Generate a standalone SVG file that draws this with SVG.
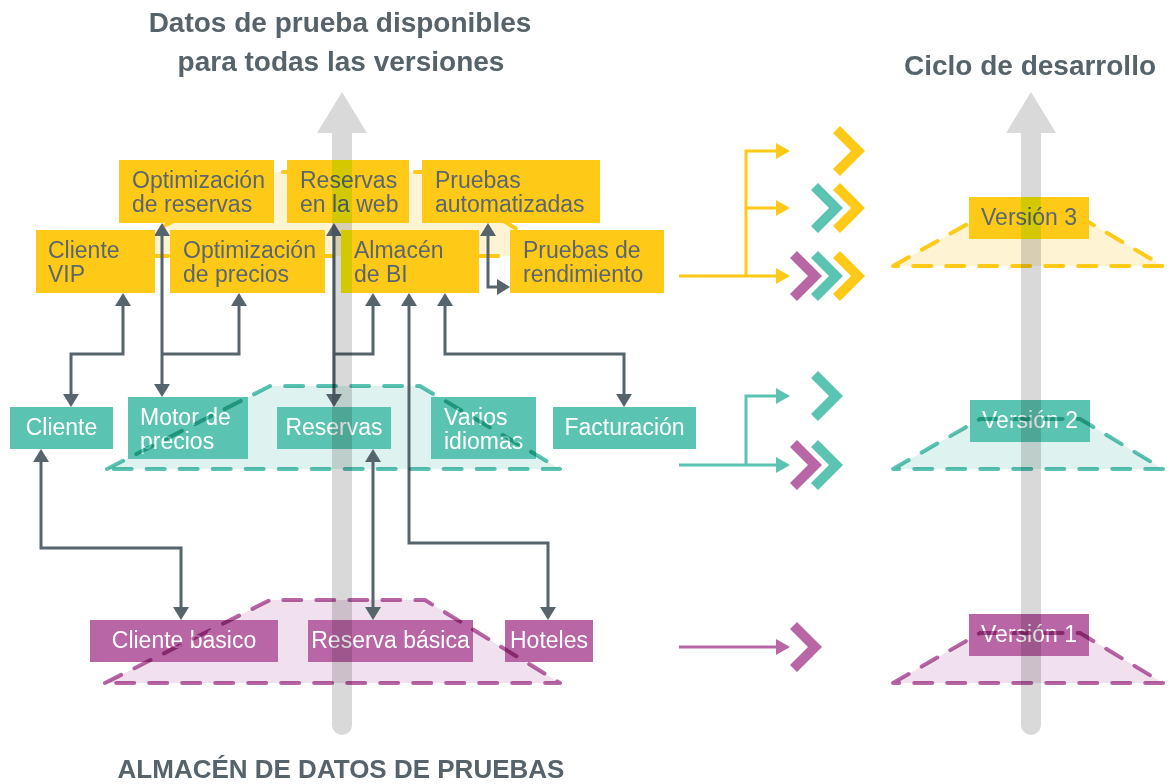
<svg xmlns="http://www.w3.org/2000/svg" width="1172" height="784" viewBox="0 0 1172 784">
<defs>
<style>
.title{font-family:"Liberation Sans",Arial,sans-serif;font-weight:bold;fill:#56636b}
.lbl{font-family:"Liberation Sans",Arial,sans-serif;font-size:23px}
.dk{fill:#5b6770}
.wt{fill:#ffffff}
.by{fill:#FFC917}
.bt{fill:#5BC3B2}
.bm{fill:#B966A6}
.strip{fill:#F9EB00}
.conn{fill:none;stroke:#56646c;stroke-width:3}
.both{marker-start:url(#ah);marker-end:url(#ah)}
.end{marker-end:url(#ah)}
.fy{fill:#FEF3D2}
.ft{fill:#DEF2EF}
.fm{fill:#F1E1EE}
.dash{fill:none;stroke-width:4;stroke-dasharray:18 15;stroke-linecap:round;stroke-linejoin:round}
.sy{stroke:#FFC917}
.st{stroke:#5BC3B2;mix-blend-mode:multiply}
.sm{stroke:#B966A6;mix-blend-mode:multiply}
.bar{fill:#d9d9d9;mix-blend-mode:multiply}
.ry{fill:none;stroke:#FFC917;stroke-width:3;marker-end:url(#ay)}
.rt{fill:none;stroke:#5BC3B2;stroke-width:3;marker-end:url(#at)}
.rm{fill:none;stroke:#B966A6;stroke-width:3;marker-end:url(#am)}
</style>
<marker id="ah" viewBox="0 0 13 16" refX="10" refY="8" markerWidth="13" markerHeight="16" markerUnits="userSpaceOnUse" orient="auto-start-reverse"><path d="M0,0 L13,8 L0,16 Z" fill="#56646c"/></marker>
<marker id="ay" viewBox="0 0 14 16" refX="11" refY="8" markerWidth="14" markerHeight="16" markerUnits="userSpaceOnUse" orient="auto"><path d="M0,0 L14,8 L0,16 Z" fill="#FFC917"/></marker>
<marker id="at" viewBox="0 0 14 16" refX="11" refY="8" markerWidth="14" markerHeight="16" markerUnits="userSpaceOnUse" orient="auto"><path d="M0,0 L14,8 L0,16 Z" fill="#5BC3B2"/></marker>
<marker id="am" viewBox="0 0 14 16" refX="11" refY="8" markerWidth="14" markerHeight="16" markerUnits="userSpaceOnUse" orient="auto"><path d="M0,0 L14,8 L0,16 Z" fill="#B966A6"/></marker>
<path id="chev" d="M-32,-18 L-25,-25 L0,0 L-25,25 L-32,18 L-14,0 Z"/>
</defs>

<rect width="1172" height="784" fill="#ffffff"/>

<!-- layer fills -->
<g id="layer-fills">
<polygon class="fy" points="105,256 270,172 425,172 560,256"/>
<polygon class="ft" points="107,469 270,386 420,386 560,469"/>
<polygon class="fm" points="105,683 270,600 425,600 560,683"/>
<polygon class="fy" points="893,266 980,217 1080,217 1163,266"/>
<polygon class="ft" points="893,469 980,419 1080,419 1163,469"/>
<polygon class="fm" points="893,683 980,633 1080,633 1163,683"/>
</g>

<!-- yellow layer outlines (under the yellow boxes) -->
<g id="layer-outlines-v3">
<polygon class="dash sy" points="105,256 270,172 425,172 560,256"/>
<polygon class="dash sy" points="893,266 980,217 1080,217 1163,266"/>
</g>

<!-- connectors -->
<g id="connectors">
<path class="conn both" d="M71,404 V354 H123 V296"/>
<path class="conn both" d="M162,394 V226"/>
<path class="conn end" d="M162,354 H239 V296"/>
<path class="conn both" d="M334,404 V226"/>
<path class="conn end" d="M334,354 H373 V296"/>
<path class="conn both" d="M409,296 V543 H548 V617"/>
<path class="conn both" d="M445,296 V354 H624 V404"/>
<path class="conn both" d="M41,452 V548 H181 V617"/>
<path class="conn both" d="M373,452 V617"/>
<path class="conn both" d="M488,226 V287 H507"/>
<path class="ry" d="M679,276 H787"/>
<path class="ry" d="M746,276 V151 H787"/>
<path class="ry" d="M746,208 H787"/>
<path class="rt" d="M679,465 H787"/>
<path class="rt" d="M746,465 V396 H787"/>
<path class="rm" d="M679,647 H787"/>
</g>

<!-- chevrons -->
<g id="chevrons">
<use href="#chev" transform="translate(865,151)" fill="#FFC917"/>
<use href="#chev" transform="translate(843,208)" fill="#5BC3B2"/>
<use href="#chev" transform="translate(865,208)" fill="#FFC917"/>
<use href="#chev" transform="translate(822,276)" fill="#B966A6"/>
<use href="#chev" transform="translate(843,276)" fill="#5BC3B2"/>
<use href="#chev" transform="translate(865,276)" fill="#FFC917"/>
<use href="#chev" transform="translate(843,396)" fill="#5BC3B2"/>
<use href="#chev" transform="translate(822,465)" fill="#B966A6"/>
<use href="#chev" transform="translate(843,465)" fill="#5BC3B2"/>
<use href="#chev" transform="translate(822,647)" fill="#B966A6"/>
</g>

<!-- yellow nodes -->
<g id="n-opt-reservas"><rect class="by" x="119" y="160" width="155" height="63"/><text class="lbl dk" x="132" y="188">Optimización</text><text class="lbl dk" x="132" y="212">de reservas</text></g>
<g id="n-reservas-web"><rect class="by" x="287" y="160" width="122" height="63"/><rect class="strip" x="332" y="160" width="20" height="63"/><text class="lbl dk" x="300" y="188">Reservas</text><text class="lbl dk" x="300" y="212">en la web</text></g>
<g id="n-pruebas-auto"><rect class="by" x="422" y="160" width="178" height="63"/><text class="lbl dk" x="435" y="188">Pruebas</text><text class="lbl dk" x="435" y="212">automatizadas</text></g>
<g id="n-cliente-vip"><rect class="by" x="36" y="230" width="119" height="63"/><text class="lbl dk" x="48" y="258">Cliente</text><text class="lbl dk" x="48" y="282">VIP</text></g>
<g id="n-opt-precios"><rect class="by" x="170" y="230" width="155" height="63"/><text class="lbl dk" x="183" y="258">Optimización</text><text class="lbl dk" x="183" y="282">de precios</text></g>
<g id="n-almacen-bi"><rect class="by" x="341" y="230" width="138" height="63"/><rect class="strip" x="341" y="230" width="11" height="63"/><text class="lbl dk" x="354" y="258">Almacén</text><text class="lbl dk" x="354" y="282">de BI</text></g>
<g id="n-pruebas-rend"><rect class="by" x="510" y="230" width="154" height="63"/><text class="lbl dk" x="523" y="258">Pruebas de</text><text class="lbl dk" x="523" y="282">rendimiento</text></g>

<!-- teal nodes -->
<g id="n-cliente"><rect class="bt" x="10" y="407" width="103" height="42"/><text class="lbl wt" x="61.5" y="435" text-anchor="middle">Cliente</text></g>
<g id="n-motor"><rect class="bt" x="128" y="397" width="120" height="62"/><text class="lbl wt" x="140" y="425">Motor de</text><text class="lbl wt" x="140" y="449">precios</text></g>
<g id="n-reservas"><rect class="bt" x="277" y="407" width="114" height="42"/><text class="lbl wt" x="334" y="435" text-anchor="middle">Reservas</text></g>
<g id="n-idiomas"><rect class="bt" x="431" y="397" width="105" height="62"/><text class="lbl wt" x="444" y="425">Varios</text><text class="lbl wt" x="444" y="449">idiomas</text></g>
<g id="n-facturacion"><rect class="bt" x="553" y="407" width="143" height="42"/><text class="lbl wt" x="624.5" y="435" text-anchor="middle">Facturación</text></g>

<!-- magenta nodes -->
<g id="n-cliente-basico"><rect class="bm" x="90" y="620" width="188" height="42"/><text class="lbl wt" x="184" y="648" text-anchor="middle">Cliente básico</text></g>
<g id="n-reserva-basica"><rect class="bm" x="308" y="620" width="165" height="42"/><text class="lbl wt" x="390.5" y="648" text-anchor="middle">Reserva básica</text></g>
<g id="n-hoteles"><rect class="bm" x="505" y="620" width="88" height="42"/><text class="lbl wt" x="549" y="648" text-anchor="middle">Hoteles</text></g>

<!-- versions -->
<g id="n-version3"><rect class="by" x="969" y="197" width="120" height="42"/><rect class="strip" x="1021" y="197" width="20" height="42"/><text class="lbl dk" x="1029" y="225" text-anchor="middle">Versión 3</text></g>
<g id="n-version2"><rect class="bt" x="970" y="400" width="120" height="42"/><text class="lbl wt" x="1030" y="428" text-anchor="middle">Versión 2</text></g>
<g id="n-version1"><rect class="bm" x="969" y="614" width="120" height="42"/><text class="lbl wt" x="1029" y="642" text-anchor="middle">Versión 1</text></g>

<!-- teal and magenta layer outlines -->
<g id="layer-outlines">
<polygon class="dash st" points="107,469 270,386 420,386 560,469"/>
<polygon class="dash sm" points="105,683 270,600 425,600 560,683"/>
<polygon class="dash st" points="893,469 980,419 1080,419 1163,469"/>
<polygon class="dash sm" points="893,683 980,633 1080,633 1163,683"/>
</g>

<!-- gray axes -->
<g id="axes">
<path class="bar" d="M317,133 L342,92 L367,133 L352,133 L352,725 A10,10 0 0 1 332,725 L332,133 Z"/>
<path class="bar" d="M1006,133 L1031,92 L1056,133 L1041,133 L1041,725 A10,10 0 0 1 1021,725 L1021,133 Z"/>
</g>

<!-- titles -->
<g id="titles">
<text class="title" x="340" y="32" font-size="28" text-anchor="middle">Datos de prueba disponibles</text>
<text class="title" x="341" y="71" font-size="28" text-anchor="middle">para todas las versiones</text>
<text class="title" x="1030" y="75" font-size="28" text-anchor="middle">Ciclo de desarrollo</text>
<text class="title" x="341" y="778" font-size="26" text-anchor="middle">ALMACÉN DE DATOS DE PRUEBAS</text>
</g>
</svg>
